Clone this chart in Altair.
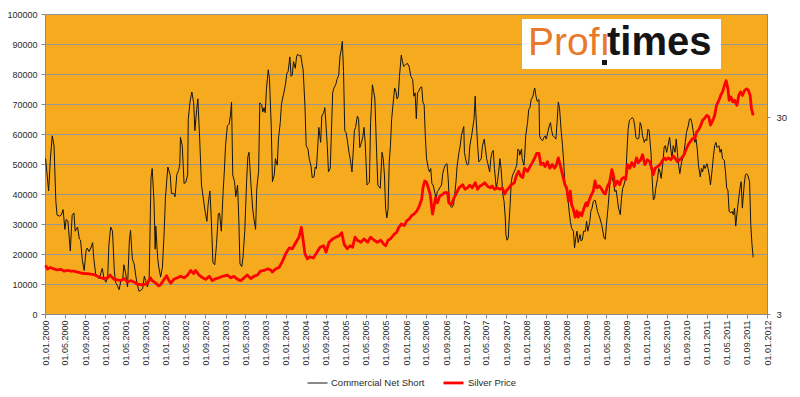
import altair as alt
import pandas as pd
import numpy as np

# ---- Commercial Net Short (contracts, in thousands) ----
cns_years = [
    2000.01, 2000.06, 2000.09, 2000.12, 2000.15, 2000.18, 2000.20, 2000.24, 2000.27, 2000.30,
    2000.33, 2000.35, 2000.38, 2000.42, 2000.45, 2000.48, 2000.50, 2000.54, 2000.57, 2000.59,
    2000.62, 2000.65, 2000.68, 2000.70, 2000.73, 2000.76, 2000.79, 2000.81, 2000.84, 2000.87,
    2000.90, 2000.93, 2000.95, 2000.98, 2001.01, 2001.04, 2001.06, 2001.09, 2001.12, 2001.15,
    2001.17, 2001.20, 2001.23, 2001.26, 2001.29, 2001.31, 2001.34, 2001.37, 2001.40, 2001.42,
    2001.45, 2001.48, 2001.51, 2001.53, 2001.56, 2001.59, 2001.62, 2001.65, 2001.67, 2001.70,
    2001.73, 2001.76, 2001.78, 2001.81, 2001.83, 2001.84, 2001.87, 2001.89, 2001.92, 2001.95,
    2001.98, 2002.00, 2002.04, 2002.08, 2002.10, 2002.14, 2002.16, 2002.19, 2002.22, 2002.24,
    2002.25, 2002.28, 2002.31, 2002.34, 2002.37, 2002.38, 2002.41, 2002.44, 2002.47, 2002.49,
    2002.52, 2002.54, 2002.57, 2002.60, 2002.63, 2002.66, 2002.69, 2002.71, 2002.74, 2002.76,
    2002.79, 2002.82, 2002.85, 2002.88, 2002.90, 2002.93, 2002.96, 2002.98,
    2003.00, 2003.03, 2003.06, 2003.08, 2003.10, 2003.12, 2003.15, 2003.17, 2003.20, 2003.22,
    2003.24, 2003.27, 2003.29, 2003.32, 2003.35, 2003.37, 2003.39, 2003.42, 2003.45, 2003.47,
    2003.50, 2003.52, 2003.55, 2003.57, 2003.60, 2003.62, 2003.64, 2003.66, 2003.68, 2003.71,
    2003.73, 2003.76, 2003.78, 2003.81, 2003.83, 2003.86, 2003.88, 2003.91, 2003.93, 2003.95,
    2003.97, 2004.00, 2004.02, 2004.04, 2004.07, 2004.09, 2004.11, 2004.13, 2004.16, 2004.18,
    2004.20, 2004.23, 2004.25, 2004.27, 2004.29, 2004.32, 2004.34, 2004.37, 2004.39, 2004.42,
    2004.44, 2004.47, 2004.49, 2004.51, 2004.53, 2004.55, 2004.58, 2004.60, 2004.63, 2004.65,
    2004.67, 2004.69, 2004.71, 2004.74, 2004.76, 2004.78, 2004.80, 2004.83, 2004.85, 2004.88,
    2004.90, 2004.92, 2004.94, 2004.96, 2004.98, 2005.00, 2005.02, 2005.05, 2005.07, 2005.10,
    2005.12, 2005.14, 2005.16, 2005.19, 2005.21, 2005.23, 2005.25, 2005.28, 2005.30, 2005.32,
    2005.35, 2005.37, 2005.39, 2005.41, 2005.44, 2005.46, 2005.48, 2005.51, 2005.53, 2005.55,
    2005.57, 2005.60, 2005.62, 2005.64, 2005.66, 2005.68, 2005.70, 2005.72, 2005.74, 2005.76,
    2005.78, 2005.81, 2005.83, 2005.85, 2005.87, 2005.89, 2005.92, 2005.94, 2005.96,
    2005.99, 2006.02, 2006.05, 2006.08, 2006.11, 2006.13, 2006.15, 2006.17, 2006.19, 2006.21,
    2006.23, 2006.26, 2006.28, 2006.30, 2006.32, 2006.34, 2006.37, 2006.39, 2006.41, 2006.43,
    2006.45, 2006.48, 2006.50, 2006.52, 2006.54, 2006.57, 2006.59, 2006.61, 2006.63, 2006.65,
    2006.68, 2006.70, 2006.72, 2006.74, 2006.76, 2006.79, 2006.81, 2006.83, 2006.85, 2006.88,
    2006.90, 2006.92, 2006.94, 2006.96, 2006.97, 2007.00, 2007.02, 2007.04, 2007.06, 2007.09,
    2007.11, 2007.13, 2007.15, 2007.16, 2007.19, 2007.21, 2007.23, 2007.25, 2007.27, 2007.30,
    2007.32, 2007.34, 2007.36, 2007.39, 2007.41, 2007.43, 2007.45, 2007.47, 2007.50, 2007.52,
    2007.54, 2007.56, 2007.58, 2007.61, 2007.63, 2007.65, 2007.66, 2007.68, 2007.70, 2007.71,
    2007.73, 2007.75, 2007.77, 2007.80, 2007.82, 2007.84, 2007.86, 2007.88, 2007.89, 2007.92,
    2007.93, 2007.96, 2007.97, 2007.99, 2008.02, 2008.04, 2008.06, 2008.08, 2008.11, 2008.13,
    2008.14, 2008.16, 2008.18, 2008.21, 2008.22, 2008.24, 2008.27, 2008.29, 2008.31, 2008.33,
    2008.35, 2008.38, 2008.40, 2008.42, 2008.44, 2008.47, 2008.49, 2008.51, 2008.53, 2008.55,
    2008.58, 2008.60, 2008.62, 2008.64, 2008.66, 2008.69, 2008.71, 2008.73, 2008.75, 2008.78,
    2008.80, 2008.82, 2008.84, 2008.86, 2008.89, 2008.91, 2008.93, 2008.95,
    2008.98, 2009.00, 2009.02, 2009.05, 2009.07, 2009.09, 2009.11, 2009.14, 2009.16, 2009.18,
    2009.20, 2009.22, 2009.25, 2009.27, 2009.29, 2009.31, 2009.33, 2009.36, 2009.38, 2009.40,
    2009.42, 2009.45, 2009.47, 2009.49, 2009.51, 2009.53, 2009.56, 2009.58, 2009.60, 2009.62,
    2009.65, 2009.67, 2009.69, 2009.71, 2009.73, 2009.76, 2009.78, 2009.80, 2009.82, 2009.84,
    2009.87, 2009.89, 2009.91, 2009.93, 2009.96, 2009.98, 2010.00, 2010.02, 2010.04, 2010.07,
    2010.09, 2010.11, 2010.13, 2010.15, 2010.18, 2010.20, 2010.22, 2010.24, 2010.27, 2010.29,
    2010.31, 2010.33, 2010.35, 2010.38, 2010.40, 2010.42, 2010.44, 2010.47, 2010.49, 2010.51,
    2010.53, 2010.55, 2010.58, 2010.60, 2010.62, 2010.64, 2010.66, 2010.69, 2010.71, 2010.73,
    2010.75, 2010.78, 2010.80, 2010.82, 2010.84, 2010.86, 2010.89, 2010.91, 2010.93, 2010.95,
    2010.97, 2011.00, 2011.02, 2011.04, 2011.06, 2011.09, 2011.11, 2011.13, 2011.15, 2011.17,
    2011.20, 2011.22, 2011.24, 2011.26, 2011.29, 2011.31, 2011.33, 2011.35, 2011.37, 2011.40,
    2011.42, 2011.44, 2011.46, 2011.48, 2011.51, 2011.53, 2011.55, 2011.57, 2011.59, 2011.62,
    2011.64, 2011.66, 2011.68, 2011.71, 2011.73, 2011.75, 2011.77,
]
cns_k = [
    51.8, 41.0, 52.0, 59.4, 56.0, 37.5, 33.0, 32.6, 33.0, 34.8,
    28.2, 31.5, 31.0, 21.0, 32.9, 33.7, 27.6, 29.0, 25.0, 24.6,
    17.8, 14.5, 21.0, 22.0, 20.8, 22.0, 23.8, 18.3, 13.4, 12.8,
    11.7, 13.9, 15.2, 11.7, 10.6, 12.3, 23.2, 29.0, 27.6, 14.5,
    10.6, 9.5, 8.1, 11.2, 11.7, 16.4, 13.4, 9.0, 24.3, 27.9,
    18.3, 16.7, 12.3, 10.1, 7.6, 7.9, 8.4, 12.6, 11.2, 9.0,
    11.7, 45.2, 48.5, 37.5, 21.6, 29.3, 18.9, 15.6, 12.3, 15.6,
    27.6, 38.6, 49.0, 46.3, 40.2, 40.2, 39.1, 46.5, 47.9, 50.1,
    58.9, 56.1, 43.5, 43.9, 46.3, 64.9, 70.9, 74.0, 70.4, 61.1,
    68.2, 71.7, 58.3, 43.0, 38.6, 34.2, 30.9, 36.4, 41.0, 33.1,
    17.2, 16.4, 23.2, 33.3, 33.7, 27.6, 40.8, 47.6,
    56.1, 62.7, 63.3, 66.0, 70.6, 46.3, 44.1, 39.1, 43.0, 32.0,
    16.7, 15.8, 18.9, 27.6, 44.1, 52.3, 53.9, 44.1, 35.3, 32.0,
    28.2, 41.9, 47.6, 70.4, 69.8, 67.3, 68.8, 67.1, 74.8, 81.4,
    78.6, 62.7, 44.1, 46.3, 51.8, 49.6, 58.3, 63.8, 69.8, 72.0,
    73.7, 77.0, 80.3, 80.8, 85.7, 79.2, 79.7, 84.1, 81.9, 85.7,
    86.6, 86.0, 86.3, 83.6, 81.4, 69.3, 56.1, 55.0, 51.8, 49.3,
    45.5, 45.7, 49.0, 48.5, 55.0, 62.2, 57.2, 66.0, 67.1, 68.8,
    62.7, 56.1, 47.4, 48.5, 61.6, 73.7, 75.3, 76.4, 78.1, 79.7,
    85.7, 87.9, 90.9, 80.8, 61.1, 60.5, 58.3, 53.9, 51.8, 47.4,
    53.9, 61.1, 62.2, 66.0, 64.9, 55.5, 56.7, 58.9, 62.2, 57.2,
    43.0, 43.5, 43.9, 63.8, 76.4, 74.2, 72.0, 53.9, 43.0, 42.4,
    41.9, 53.9, 51.8, 46.3, 35.3, 32.0, 34.8, 50.7, 56.1, 64.9,
    69.3, 75.3, 74.2, 71.7, 72.6, 79.2, 86.3, 84.1, 82.5,
    83.0, 83.6, 82.5, 79.2, 78.1, 72.6, 73.7, 65.1, 73.7, 74.2,
    75.3, 75.7, 70.6, 69.8, 59.4, 51.8, 48.5, 47.4, 48.5, 43.5,
    43.0, 40.2, 38.6, 40.8, 41.3, 42.4, 43.0, 46.8, 48.5, 49.6,
    50.1, 45.2, 37.5, 35.9, 35.5, 36.4, 40.2, 44.1, 49.6, 53.9,
    56.1, 59.4, 61.1, 62.5, 53.9, 50.7, 49.6, 50.1, 56.1, 59.4,
    62.2, 64.9, 72.6, 67.1, 56.1, 50.7, 51.2, 51.8, 56.1, 58.3,
    55.0, 51.8, 50.1, 47.4, 51.8, 53.9, 54.5, 48.5, 41.9, 44.1,
    47.4, 51.8, 48.5, 39.7, 37.5, 32.0, 26.5, 24.6, 25.4, 29.8,
    36.4, 44.1, 46.3, 47.4, 48.5, 49.6, 55.0, 54.5, 52.9, 55.0,
    51.8, 49.6, 51.8, 59.4, 63.8, 68.2, 68.8, 71.5, 72.6, 74.8,
    75.3, 72.6, 70.9, 71.5, 59.4, 58.3, 57.8, 58.9, 59.4, 58.3,
    60.0, 62.7, 63.8, 61.1, 59.4, 58.9, 58.3, 63.8, 70.6, 68.8,
    60.5, 56.1, 50.7, 43.0, 41.9, 38.6, 34.2, 30.9, 28.7, 27.6,
    22.1, 25.4, 27.6, 23.8, 26.5, 24.3, 24.9, 27.6,
    27.6, 30.9, 27.6, 30.4, 34.2, 35.3, 37.5, 38.0, 36.4, 34.2,
    33.1, 32.0, 29.8, 27.6, 25.4, 24.9, 29.8, 36.4, 41.9, 45.2,
    45.7, 43.5, 40.8, 41.3, 38.6, 35.3, 33.1, 38.6, 41.9, 43.0,
    45.2, 53.9, 61.6, 64.4, 64.9, 65.5, 64.9, 62.7, 58.9, 58.3,
    58.6, 63.8, 62.7, 59.4, 57.2, 58.3, 57.8, 61.6, 61.1, 53.9,
    45.2, 38.0, 38.6, 41.9, 45.2, 48.5, 47.4, 45.2, 50.7, 55.7,
    56.1, 53.9, 55.7, 58.9, 55.0, 51.8, 56.1, 53.9, 58.3, 53.9,
    49.6, 46.8, 50.7, 51.8, 53.9, 57.2, 60.5, 62.7, 64.9, 65.1,
    63.8, 60.0, 57.2, 58.3, 55.0, 49.6, 45.7, 48.5, 47.4, 49.6,
    48.5, 50.1, 48.5, 46.3, 43.0, 48.5, 52.9, 56.1, 57.2, 55.5,
    56.1, 53.9, 55.0, 51.8, 51.2, 47.4, 41.9, 41.3, 34.2, 33.7,
    34.2, 33.1, 35.3, 29.3, 35.3, 38.6, 41.9, 44.1, 35.3, 43.0,
    46.3, 46.8, 46.3, 44.1, 29.8, 23.2, 18.9,
]

# ---- Silver price (USD/oz) ----
silver_years = [
    2000.01, 2000.04, 2000.09, 2000.15, 2000.20, 2000.26, 2000.32, 2000.37, 2000.43, 2000.48,
    2000.54, 2000.59, 2000.65, 2000.70, 2000.76, 2000.81, 2000.87, 2000.93, 2000.98, 2001.04,
    2001.08, 2001.12, 2001.15, 2001.20, 2001.26, 2001.31, 2001.37, 2001.42, 2001.48, 2001.53,
    2001.59, 2001.65, 2001.70, 2001.75, 2001.78, 2001.84, 2001.89, 2001.92, 2001.98, 2002.02,
    2002.06, 2002.09, 2002.14, 2002.20, 2002.25, 2002.31, 2002.37, 2002.42, 2002.47, 2002.50,
    2002.56, 2002.62, 2002.67, 2002.73, 2002.78, 2002.84, 2002.89, 2002.95,
    2003.03, 2003.09, 2003.14, 2003.20, 2003.25, 2003.31, 2003.36, 2003.42, 2003.47, 2003.53,
    2003.58, 2003.64, 2003.70, 2003.75, 2003.78, 2003.83, 2003.89, 2003.94, 2004.00, 2004.06,
    2004.11, 2004.17, 2004.22, 2004.26, 2004.29, 2004.32, 2004.36, 2004.40, 2004.46, 2004.52,
    2004.57, 2004.63, 2004.67, 2004.72, 2004.78, 2004.83, 2004.89, 2004.93, 2004.97, 2005.02,
    2005.07, 2005.11, 2005.15, 2005.19, 2005.25, 2005.30, 2005.36, 2005.41, 2005.47, 2005.52,
    2005.58, 2005.63, 2005.66, 2005.70, 2005.74, 2005.80, 2005.84, 2005.88, 2005.92, 2005.97,
    2006.01, 2006.05, 2006.09, 2006.13, 2006.18, 2006.22, 2006.26, 2006.28, 2006.31, 2006.34,
    2006.37, 2006.40, 2006.44, 2006.47, 2006.49, 2006.52, 2006.56, 2006.60, 2006.64, 2006.69,
    2006.71, 2006.75, 2006.80, 2006.84, 2006.88, 2006.94, 2006.98, 2007.02, 2007.06, 2007.10,
    2007.15, 2007.19, 2007.23, 2007.27, 2007.31, 2007.35, 2007.40, 2007.43, 2007.47, 2007.52,
    2007.56, 2007.60, 2007.64, 2007.67, 2007.71, 2007.75, 2007.80, 2007.83, 2007.87, 2007.91,
    2007.94, 2007.97, 2008.02, 2008.06, 2008.10, 2008.14, 2008.17, 2008.21, 2008.24, 2008.28,
    2008.31, 2008.35, 2008.39, 2008.43, 2008.47, 2008.50, 2008.53, 2008.56, 2008.60, 2008.64,
    2008.67, 2008.70, 2008.73, 2008.75, 2008.78, 2008.81, 2008.84, 2008.86, 2008.89, 2008.92,
    2008.95, 2008.99, 2009.01, 2009.04, 2009.07, 2009.11, 2009.14, 2009.17, 2009.21, 2009.25,
    2009.28, 2009.31, 2009.35, 2009.38, 2009.42, 2009.45, 2009.47, 2009.51, 2009.55, 2009.58,
    2009.62, 2009.65, 2009.68, 2009.72, 2009.75, 2009.79, 2009.83, 2009.86, 2009.90, 2009.93,
    2009.97, 2010.01, 2010.05, 2010.08, 2010.11, 2010.14, 2010.18, 2010.22, 2010.25, 2010.29,
    2010.32, 2010.36, 2010.40, 2010.44, 2010.47, 2010.51, 2010.55, 2010.58, 2010.62, 2010.65,
    2010.69, 2010.72, 2010.76, 2010.80, 2010.83, 2010.86, 2010.90, 2010.93, 2010.96, 2011.00,
    2011.03, 2011.06, 2011.10, 2011.13, 2011.16, 2011.20, 2011.23, 2011.26, 2011.30, 2011.32,
    2011.35, 2011.37, 2011.40, 2011.43, 2011.46, 2011.50, 2011.53, 2011.56, 2011.59, 2011.63,
    2011.66, 2011.69, 2011.72, 2011.74, 2011.77,
]
silver_usd = [
    5.30, 5.08, 5.17, 5.08, 5.02, 5.06, 4.95, 4.99, 4.95, 4.95,
    4.90, 4.85, 4.81, 4.81, 4.78, 4.76, 4.66, 4.58, 4.54, 4.58,
    4.73, 4.58, 4.50, 4.47, 4.43, 4.54, 4.36, 4.43, 4.36, 4.26,
    4.23, 4.23, 4.30, 4.58, 4.43, 4.30, 4.17, 4.23, 4.50, 4.69,
    4.43, 4.30, 4.50, 4.58, 4.66, 4.58, 4.73, 4.99, 4.81, 4.99,
    4.73, 4.58, 4.50, 4.66, 4.43, 4.54, 4.58, 4.66,
    4.73, 4.58, 4.66, 4.50, 4.43, 4.58, 4.73, 4.54, 4.66, 4.73,
    4.95, 4.99, 5.08, 5.02, 4.90, 5.08, 5.17, 5.50, 6.06, 6.50,
    6.43, 6.94, 7.36, 8.26, 7.10, 6.06, 5.72, 5.85, 5.77, 6.18,
    6.54, 6.66, 6.18, 6.94, 7.22, 7.36, 7.50, 7.76, 6.78, 6.43,
    6.66, 6.54, 7.36, 7.10, 6.94, 7.22, 6.94, 7.36, 7.10, 6.94,
    7.10, 6.78, 6.66, 7.10, 7.22, 7.60, 7.76, 8.26, 8.59, 8.43,
    8.90, 9.10, 9.46, 9.64, 10.0, 10.6, 11.5, 13.1, 14.2, 14.0,
    13.1, 12.2, 9.64, 10.8, 11.7, 11.0, 11.9, 12.1, 12.4, 12.4,
    11.0, 10.8, 11.7, 12.4, 13.1, 13.6, 12.9, 13.1, 13.5, 13.1,
    13.9, 12.9, 13.4, 13.6, 13.9, 13.4, 13.1, 13.4, 12.9, 13.1,
    12.9, 13.1, 12.2, 12.7, 13.1, 13.6, 13.9, 15.0, 15.9, 15.0,
    14.8, 16.5, 15.9, 16.8, 17.6, 18.6, 19.6, 19.6, 17.2, 17.5,
    16.8, 17.8, 16.5, 17.2, 16.5, 17.2, 18.6, 17.2, 15.3, 13.6,
    13.1, 11.2, 12.6, 10.8, 10.2, 9.3, 10.0, 9.3, 9.8, 9.46,
    10.2, 11.0, 10.6, 11.3, 11.9, 12.6, 14.2, 13.1, 13.4, 12.9,
    12.4, 12.2, 13.4, 13.9, 16.2, 15.0, 13.4, 14.2, 13.6, 14.5,
    14.8, 14.5, 17.2, 16.5, 17.6, 16.8, 18.6, 17.6, 18.2, 19.3,
    17.2, 18.2, 17.8, 16.5, 15.3, 16.5, 16.8, 17.2, 17.8, 18.6,
    18.2, 18.6, 18.2, 19.0, 18.6, 17.8, 18.2, 18.6, 19.3, 20.4,
    21.7, 22.4, 23.3, 23.3, 25.2, 25.7, 27.3, 28.9, 29.5, 30.6,
    30.1, 27.3, 28.9, 30.6, 34.4, 36.5, 38.6, 40.2, 44.2, 45.9,
    41.7, 36.5, 37.9, 35.8, 36.5, 34.4, 38.6, 40.2, 38.6, 41.0,
    41.7, 41.0, 38.6, 33.2, 30.6,
]

SERIES = ["Commercial Net Short", "Silver Price"]
COLORS = ["#141414", "#ff0000"]
WIDTHS = [1.0, 2.8]


def to_iso(y):
    yr = int(np.floor(y))
    start = pd.Timestamp(year=yr, month=1, day=1)
    end = pd.Timestamp(year=yr + 1, month=1, day=1)
    return (start + (end - start) * (y - yr)).strftime("%Y-%m-%dT%H:%M:%SZ")


def ms(s):
    return int(pd.Timestamp(s, tz="UTC").value // 10**6)


cns_df = pd.DataFrame({
    "date": [to_iso(y) for y in cns_years],
    "value": [round(v * 1000) for v in cns_k],
    "series": SERIES[0],
})
ag_df = pd.DataFrame({
    "date": [to_iso(y) for y in silver_years],
    "price": silver_usd,
    "series": SERIES[1],
})

tick_dates = [f"{yr}-{m:02d}-01" for yr in range(2000, 2012) for m in (1, 5, 9)] + ["2012-01-01"]
tick_ms = [ms(d) for d in tick_dates]
x_domain = [ms("2000-01-01"), ms("2012-01-01")]

FONT = "Liberation Sans"
LABEL = "#2a2a2a"
AXIS = "#8a8a8a"

xenc = alt.X(
    "date:T",
    scale=alt.Scale(type="utc", domain=x_domain, nice=False),
    axis=alt.Axis(
        values=tick_ms, labelExpr="utcFormat(datum.value, '%d.%m.%Y')",
        labelAngle=270, title=None, grid=False, tickSize=4, labelPadding=2,
        labelFontSize=9, labelOverlap=False,
    ),
)

legend = alt.Legend(
    orient="none", legendX=262, legendY=357, direction="horizontal", title=None,
    symbolType="stroke", symbolSize=400, labelFont=FONT, labelFontSize=9.5,
    labelColor=LABEL, columnPadding=12, labelOffset=3,
)
color = alt.Color("series:N", scale=alt.Scale(domain=SERIES, range=COLORS), legend=legend)
swidth = alt.StrokeWidth("series:N", scale=alt.Scale(domain=SERIES, range=WIDTHS), legend=legend)

cns_line = alt.Chart(cns_df).mark_line(strokeJoin="round").encode(
    x=xenc,
    y=alt.Y(
        "value:Q",
        scale=alt.Scale(domain=[0, 100000], nice=False, zero=True),
        axis=alt.Axis(values=list(range(0, 100001, 10000)), format="d", title=None,
                      grid=True, gridColor="#979797", gridWidth=1, tickSize=4,
                      labelPadding=4, labelFontSize=9, orient="left"),
    ),
    color=color,
    strokeWidth=swidth,
)

ag_line = alt.Chart(ag_df).mark_line(strokeJoin="round").encode(
    x=xenc,
    y=alt.Y(
        "price:Q",
        scale=alt.Scale(type="log", domain=[3, 100], nice=False),
        axis=alt.Axis(values=[3, 30], format="d", title=None, grid=False, tickSize=3,
                      labelPadding=6, labelFontSize=9.5, orient="right"),
    ),
    color=color,
    strokeWidth=swidth,
)

logo_df = pd.DataFrame({"a": [1]})
logo_box = alt.Chart(logo_df).mark_rect(color="white").encode(
    x=alt.value(477), x2=alt.value(676), y=alt.value(5), y2=alt.value(55)
)
logo_a = alt.Chart(logo_df).mark_text(
    text="Profı", font=FONT, fontSize=39, color="#E8792B", align="left", baseline="alphabetic"
).encode(x=alt.value(483), y=alt.value(41))
logo_dot = alt.Chart(logo_df).mark_rect(color="#151515").encode(
    x=alt.value(557), x2=alt.value(562), y=alt.value(46), y2=alt.value(51)
)
logo_b = alt.Chart(logo_df).mark_text(
    text="times", font=FONT, fontSize=40, fontWeight="bold", color="#151515",
    align="left", baseline="alphabetic"
).encode(x=alt.value(562), y=alt.value(41))

chart = (
    alt.layer(cns_line, ag_line, logo_box, logo_a, logo_dot, logo_b)
    .resolve_scale(y="independent")
    .properties(
        width=722, height=300,
        autosize=alt.AutoSizeParams(type="none"),
        padding={"left": 37, "top": 6, "right": 25, "bottom": 75},
        background="white",
    )
    .configure_view(fill="#F6AB1E", stroke="#8a8a8a", strokeWidth=1)
    .configure_axis(
        labelFont=FONT, labelColor=LABEL, domainColor=AXIS, tickColor=AXIS,
    )
)

chart.save("out.html", embed_options={"renderer": "svg", "actions": False})
